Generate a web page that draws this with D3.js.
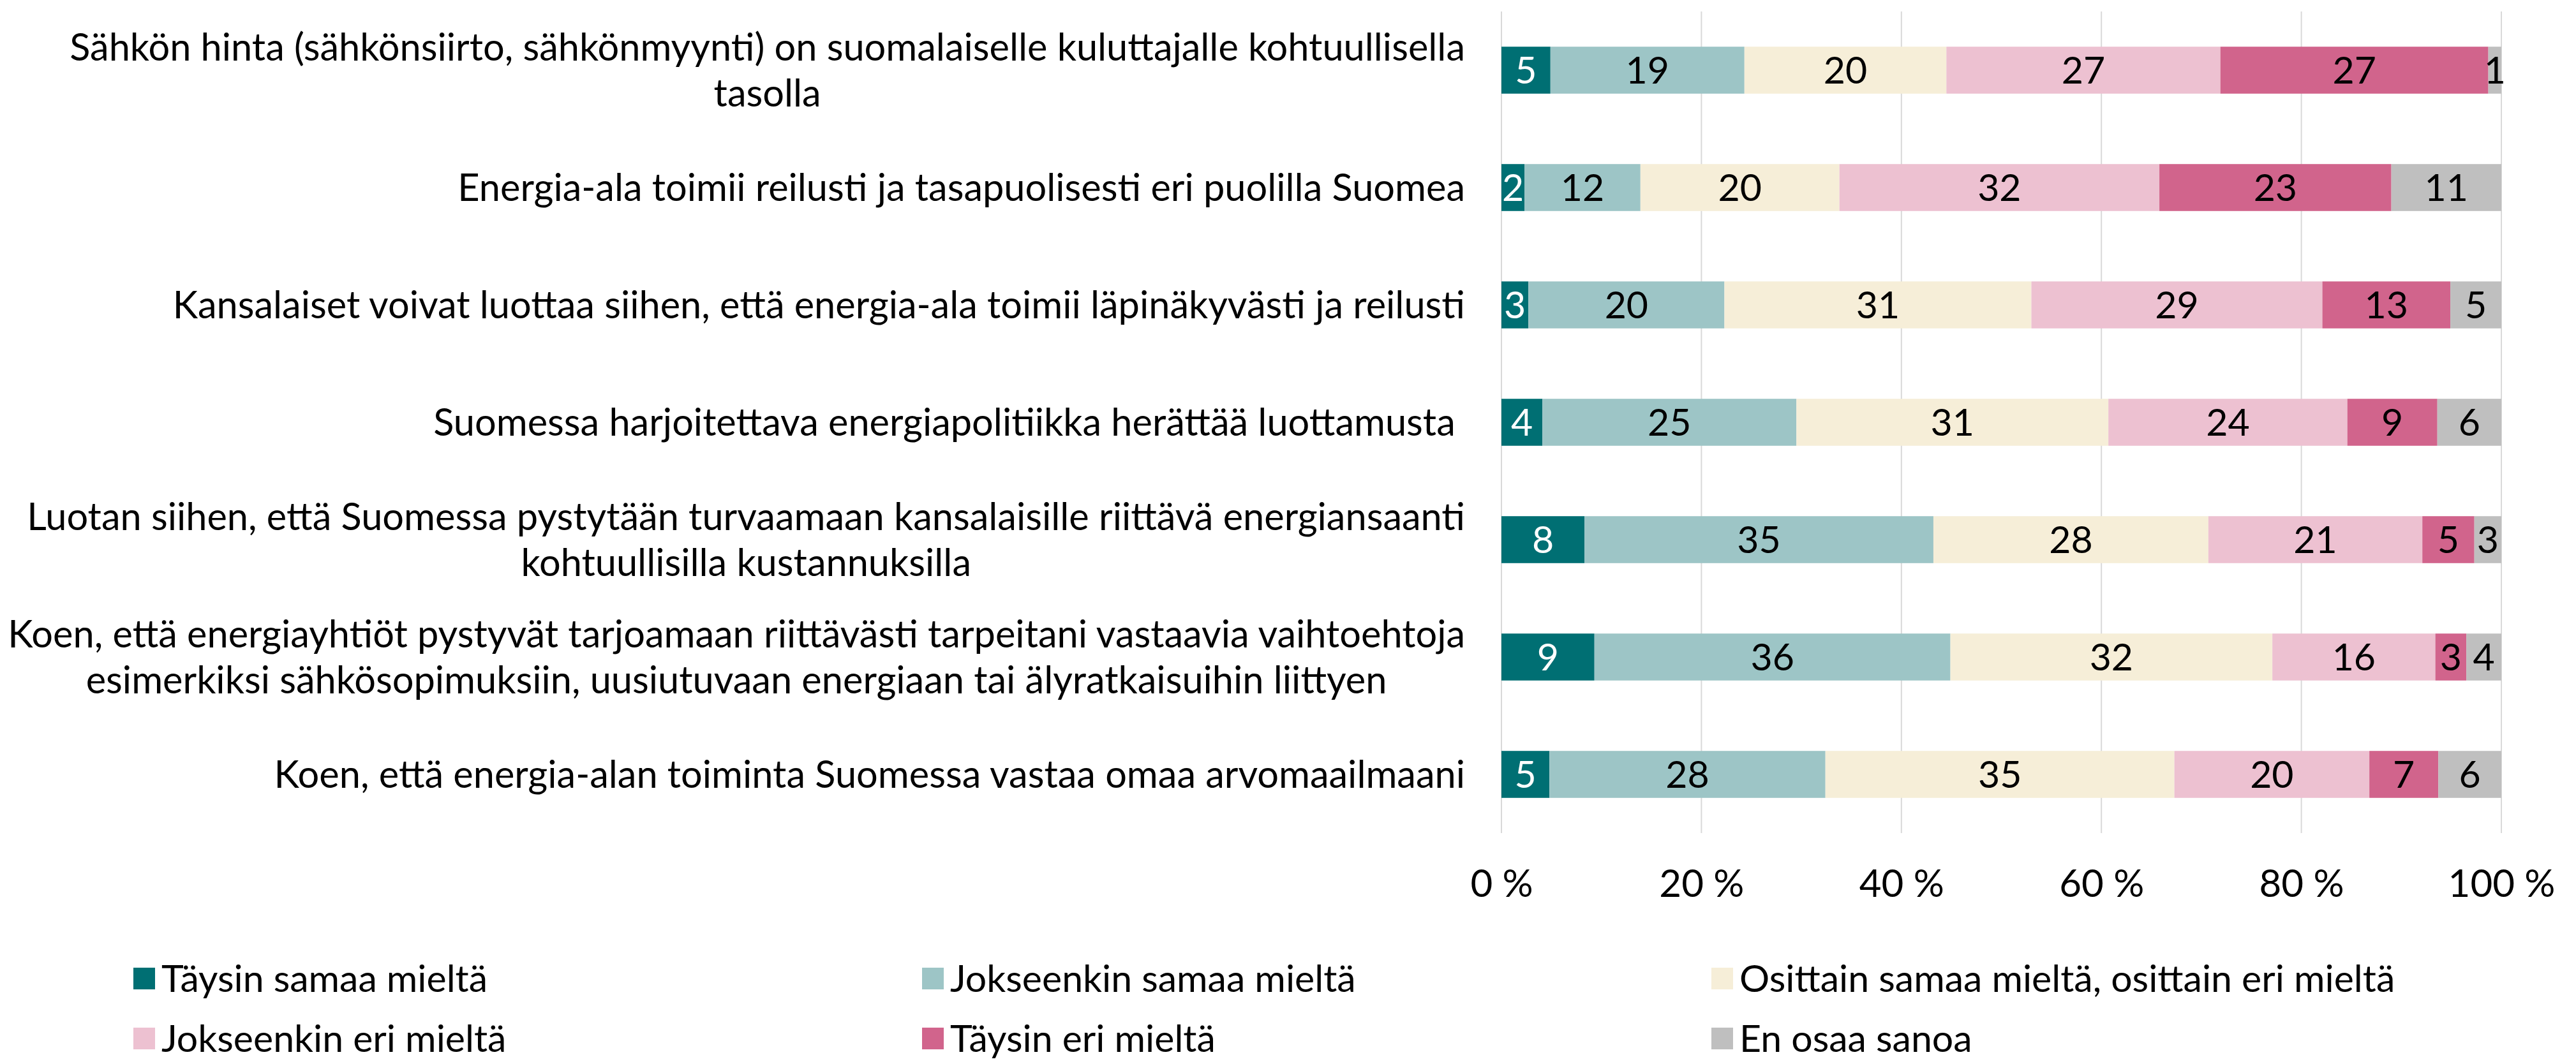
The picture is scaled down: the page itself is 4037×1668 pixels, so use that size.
<!DOCTYPE html>
<html>
<head>
<meta charset="utf-8">
<script src="https://cdn.jsdelivr.net/npm/d3@7"></script>
<style>
  body { margin: 0; background: #fff; }
  figure { margin: 0; }
  text { font-family: Lato, "Open Sans", sans-serif; fill: #000; }
</style>
</head>
<body>
<figure id="chart"></figure>
<script>
// statements (one array of lines per bar)
const categories = [
  ["Sähkön hinta (sähkönsiirto, sähkönmyynti) on suomalaiselle kuluttajalle kohtuullisella", "tasolla"],
  ["Energia-ala toimii reilusti ja tasapuolisesti eri puolilla Suomea"],
  ["Kansalaiset voivat luottaa siihen, että energia-ala toimii läpinäkyvästi ja reilusti"],
  ["Suomessa harjoitettava energiapolitiikka herättää luottamusta "],
  ["Luotan siihen, että Suomessa pystytään turvaamaan kansalaisille riittävä energiansaanti", "kohtuullisilla kustannuksilla"],
  ["Koen, että energiayhtiöt pystyvät tarjoamaan riittävästi tarpeitani vastaavia vaihtoehtoja", "esimerkiksi sähkösopimuksiin, uusiutuvaan energiaan tai älyratkaisuihin liittyen"],
  ["Koen, että energia-alan toiminta Suomessa vastaa omaa arvomaailmaani"]
];

const seriesNames = [
  "Täysin samaa mieltä",
  "Jokseenkin samaa mieltä",
  "Osittain samaa mieltä, osittain eri mieltä",
  "Jokseenkin eri mieltä",
  "Täysin eri mieltä",
  "En osaa sanoa"
];

// % per statement, same order as categories
const taysinSamaa     = [4.9, 2.3, 2.7, 4.1, 8.3, 9.3, 4.8];
const jokseenkinSamaa = [19.4, 11.6, 19.6, 25.4, 34.9, 35.6, 27.6];
const osittain        = [20.2, 19.9, 30.7, 31.2, 27.5, 32.2, 34.9];
const jokseenkinEri   = [27.4, 32.0, 29.1, 23.9, 21.4, 16.3, 19.5];
const taysinEri       = [26.8, 23.2, 12.8, 9.0, 5.2, 3.1, 6.9];
const enOsaa          = [1.3, 11.0, 5.1, 6.4, 2.7, 3.5, 6.3];

const tickValues = [0, 20, 40, 60, 80, 100];

const colors = ["#006F73", "#9DC5C6", "#F6EED8", "#EDC1D1", "#D1648C", "#BFBFBF"];

const width = 4037;
const height = 1668;
const plotLeft = 2353, plotRight = 3920, plotTop = 18, plotBottom = 1306;
const labelRight = 2296;
const lineHeight = 72;

const allSeries = [taysinSamaa, jokseenkinSamaa, osittain, jokseenkinEri, taysinEri, enOsaa];
const table = categories.map((c, i) => {
  const row = { id: String(i) };
  seriesNames.forEach((s, j) => row[s] = allSeries[j][i]);
  return row;
});

const svg = d3.select("figure#chart")
  .append("svg")
  .attr("width", width)
  .attr("height", height);

const x = d3.scaleLinear()
  .domain([0, 100])
  .range([plotLeft, plotRight]);

const y = d3.scaleBand()
  .domain(table.map(d => d.id))
  .range([plotTop, plotBottom])
  .paddingInner(0.6)
  .paddingOuter(0.3);

const color = d3.scaleOrdinal()
  .domain(seriesNames)
  .range(colors);

// Gridlines
svg.append("g")
  .selectAll("line")
  .data(tickValues)
  .enter()
  .append("line")
  .attr("x1", d => x(d))
  .attr("x2", d => x(d))
  .attr("y1", plotTop)
  .attr("y2", plotBottom)
  .attr("stroke", "#d9d9d9")
  .attr("stroke-width", 2);

// X axis
const xAxis = svg.append("g")
  .attr("transform", "translate(0," + plotBottom + ")")
  .call(d3.axisBottom(x).tickValues(tickValues).tickSize(0).tickFormat(d => d + " %"));
xAxis.select(".domain").remove();
xAxis.selectAll("text")
  .attr("y", 100)
  .attr("dy", 0)
  .style("font-size", "60px")
  .style("font-family", "Lato, 'Open Sans', sans-serif")
  .attr("fill", "#000");

// Bars
const stacked = d3.stack().keys(seriesNames)(table);

const layers = svg.append("g")
  .selectAll("g")
  .data(stacked)
  .enter()
  .append("g")
  .attr("fill", d => color(d.key));

layers.selectAll("rect")
  .data(d => d)
  .enter()
  .append("rect")
  .attr("x", d => x(d[0]))
  .attr("y", d => y(d.data.id))
  .attr("width", d => x(d[1]) - x(d[0]))
  .attr("height", y.bandwidth());

// Value labels
layers.each(function (layer, li) {
  d3.select(this).selectAll("text")
    .data(layer)
    .enter()
    .append("text")
    .attr("x", d => (x(d[0]) + x(d[1])) / 2)
    .attr("y", d => y(d.data.id) + y.bandwidth() / 2)
    .attr("dy", "0.36em")
    .attr("text-anchor", "middle")
    .style("font-size", "59px")
    .style("fill", li === 0 ? "#fff" : "#000")
    .text(d => Math.round(d[1] - d[0]));
});

// Category labels, lines centred inside a right-aligned block
const labels = svg.append("g")
  .selectAll("g")
  .data(categories)
  .enter()
  .append("g")
  .attr("transform", (d, i) => "translate(0," + (y(String(i)) + y.bandwidth() / 2) + ")");

labels.each(function (lines) {
  const g = d3.select(this);
  const texts = g.selectAll("text")
    .data(lines)
    .enter()
    .append("text")
    .attr("y", (d, i) => (i - (lines.length - 1) / 2) * lineHeight)
    .attr("dy", "0.36em")
    .attr("text-anchor", "middle")
    .style("font-size", "59.5px")
    .style("white-space", "pre")
    .text(d => d);
  let maxW = 0;
  texts.each(function () { maxW = Math.max(maxW, this.getComputedTextLength()); });
  texts.attr("x", labelRight - maxW / 2);
});

// Legend
const legendX = [209, 1445, 2682];
const legendY = [1517, 1611];
const legend = svg.append("g")
  .selectAll("g")
  .data(seriesNames)
  .enter()
  .append("g")
  .attr("transform", (d, i) => "translate(" + legendX[i % 3] + "," + legendY[Math.floor(i / 3)] + ")");

legend.append("rect")
  .attr("width", 34)
  .attr("height", 34)
  .attr("fill", d => color(d));

legend.append("text")
  .attr("x", 44)
  .attr("y", 38)
  .style("font-size", "59px")
  .text(d => d);
</script>
</body>
</html>
